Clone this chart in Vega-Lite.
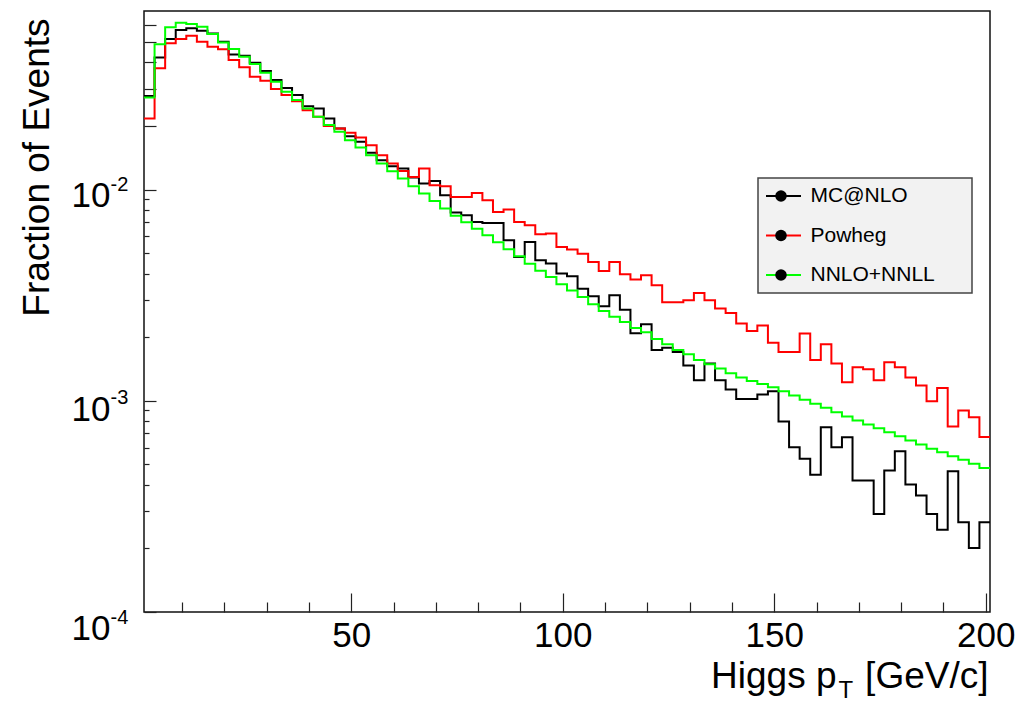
{
"$schema":"https://vega.github.io/schema/vega-lite/v6.json",
"width":846,"height":601,
"autosize":{"type":"none"},
"padding":{"left":144,"top":11,"right":28,"bottom":92},
"background":"white",
"config":{
 "view":{"stroke":"#111","strokeWidth":1.5},
 "axis":{"grid":false,"domain":false,"labelFont":"Liberation Sans","titleFont":"Liberation Sans","labelColor":"#000","titleColor":"#000","titleFontWeight":"normal","tickColor":"#222","tickWidth":1.2,"labelFlush":false,"labelOverlap":false},
 "legend":{"labelFont":"Liberation Sans","strokeWidth":1.5}
},
"data":{"values":[
{"series":"MC@NLO","pt":1,"frac":0.0277},{"series":"MC@NLO","pt":3.5,"frac":0.0422},{"series":"MC@NLO","pt":6,"frac":0.0516},{"series":"MC@NLO","pt":8.5,"frac":0.0569},{"series":"MC@NLO","pt":11,"frac":0.0580},{"series":"MC@NLO","pt":13.5,"frac":0.0564},{"series":"MC@NLO","pt":16,"frac":0.0548},{"series":"MC@NLO","pt":18.5,"frac":0.0500},{"series":"MC@NLO","pt":21,"frac":0.0436},{"series":"MC@NLO","pt":23.5,"frac":0.0430},
{"series":"MC@NLO","pt":26,"frac":0.0398},{"series":"MC@NLO","pt":28.5,"frac":0.0364},{"series":"MC@NLO","pt":31,"frac":0.0330},{"series":"MC@NLO","pt":33.5,"frac":0.0302},{"series":"MC@NLO","pt":36,"frac":0.0280},{"series":"MC@NLO","pt":38.5,"frac":0.0248},{"series":"MC@NLO","pt":41,"frac":0.0242},{"series":"MC@NLO","pt":43.5,"frac":0.0217},{"series":"MC@NLO","pt":46,"frac":0.01946},{"series":"MC@NLO","pt":48.5,"frac":0.01789},
{"series":"MC@NLO","pt":51,"frac":0.01681},{"series":"MC@NLO","pt":53.5,"frac":0.01491},{"series":"MC@NLO","pt":56,"frac":0.01377},{"series":"MC@NLO","pt":58.5,"frac":0.01290},{"series":"MC@NLO","pt":61,"frac":0.01258},{"series":"MC@NLO","pt":63.5,"frac":0.01140},{"series":"MC@NLO","pt":66,"frac":0.01068},{"series":"MC@NLO","pt":68.5,"frac":0.01098},{"series":"MC@NLO","pt":71,"frac":0.00940},{"series":"MC@NLO","pt":73.5,"frac":0.00778},
{"series":"MC@NLO","pt":76,"frac":0.00755},{"series":"MC@NLO","pt":78.5,"frac":0.00702},{"series":"MC@NLO","pt":81,"frac":0.00695},{"series":"MC@NLO","pt":83.5,"frac":0.00695},{"series":"MC@NLO","pt":86,"frac":0.00575},{"series":"MC@NLO","pt":88.5,"frac":0.00479},{"series":"MC@NLO","pt":91,"frac":0.00565},{"series":"MC@NLO","pt":93.5,"frac":0.00462},{"series":"MC@NLO","pt":96,"frac":0.00446},{"series":"MC@NLO","pt":98.5,"frac":0.00400},
{"series":"MC@NLO","pt":101,"frac":0.00388},{"series":"MC@NLO","pt":103.5,"frac":0.00339},{"series":"MC@NLO","pt":106,"frac":0.00312},{"series":"MC@NLO","pt":108.5,"frac":0.00280},{"series":"MC@NLO","pt":111,"frac":0.00316},{"series":"MC@NLO","pt":113.5,"frac":0.00270},{"series":"MC@NLO","pt":116,"frac":0.00209},{"series":"MC@NLO","pt":118.5,"frac":0.00230},{"series":"MC@NLO","pt":121,"frac":0.00174},{"series":"MC@NLO","pt":123.5,"frac":0.00178},
{"series":"MC@NLO","pt":126,"frac":0.00170},{"series":"MC@NLO","pt":128.5,"frac":0.00147},{"series":"MC@NLO","pt":131,"frac":0.00125},{"series":"MC@NLO","pt":133.5,"frac":0.00150},{"series":"MC@NLO","pt":136,"frac":0.00125},{"series":"MC@NLO","pt":138.5,"frac":0.00113},{"series":"MC@NLO","pt":141,"frac":0.00102},{"series":"MC@NLO","pt":143.5,"frac":0.00102},{"series":"MC@NLO","pt":146,"frac":0.00107},{"series":"MC@NLO","pt":148.5,"frac":0.00111},
{"series":"MC@NLO","pt":151,"frac":0.000798},{"series":"MC@NLO","pt":153.5,"frac":0.000603},{"series":"MC@NLO","pt":156,"frac":0.000531},{"series":"MC@NLO","pt":158.5,"frac":0.000447},{"series":"MC@NLO","pt":161,"frac":0.000750},{"series":"MC@NLO","pt":163.5,"frac":0.000603},{"series":"MC@NLO","pt":166,"frac":0.000672},{"series":"MC@NLO","pt":168.5,"frac":0.000419},{"series":"MC@NLO","pt":171,"frac":0.000419},{"series":"MC@NLO","pt":173.5,"frac":0.000291},
{"series":"MC@NLO","pt":176,"frac":0.000467},{"series":"MC@NLO","pt":178.5,"frac":0.000577},{"series":"MC@NLO","pt":181,"frac":0.000401},{"series":"MC@NLO","pt":183.5,"frac":0.000356},{"series":"MC@NLO","pt":186,"frac":0.000291},{"series":"MC@NLO","pt":188.5,"frac":0.000245},{"series":"MC@NLO","pt":191,"frac":0.000464},{"series":"MC@NLO","pt":193.5,"frac":0.000266},{"series":"MC@NLO","pt":196,"frac":0.000201},{"series":"MC@NLO","pt":198.5,"frac":0.000266},{"series":"MC@NLO","pt":201,"frac":0.000266},
{"series":"Powheg","pt":1,"frac":0.0217},{"series":"Powheg","pt":3.5,"frac":0.0375},{"series":"Powheg","pt":6,"frac":0.0492},{"series":"Powheg","pt":8.5,"frac":0.0516},{"series":"Powheg","pt":11,"frac":0.0535},{"series":"Powheg","pt":13.5,"frac":0.0501},{"series":"Powheg","pt":16,"frac":0.0474},{"series":"Powheg","pt":18.5,"frac":0.0461},{"series":"Powheg","pt":21,"frac":0.0410},{"series":"Powheg","pt":23.5,"frac":0.0379},
{"series":"Powheg","pt":26,"frac":0.0342},{"series":"Powheg","pt":28.5,"frac":0.0327},{"series":"Powheg","pt":31,"frac":0.0299},{"series":"Powheg","pt":33.5,"frac":0.0280},{"series":"Powheg","pt":36,"frac":0.0262},{"series":"Powheg","pt":38.5,"frac":0.0237},{"series":"Powheg","pt":41,"frac":0.0221},{"series":"Powheg","pt":43.5,"frac":0.0200},{"series":"Powheg","pt":46,"frac":0.01946},{"series":"Powheg","pt":48.5,"frac":0.01855},
{"series":"Powheg","pt":51,"frac":0.01764},{"series":"Powheg","pt":53.5,"frac":0.01622},{"series":"Powheg","pt":56,"frac":0.01454},{"series":"Powheg","pt":58.5,"frac":0.01328},{"series":"Powheg","pt":61,"frac":0.01225},{"series":"Powheg","pt":63.5,"frac":0.01147},{"series":"Powheg","pt":66,"frac":0.01258},{"series":"Powheg","pt":68.5,"frac":0.01048},{"series":"Powheg","pt":71,"frac":0.01037},{"series":"Powheg","pt":73.5,"frac":0.00922},
{"series":"Powheg","pt":76,"frac":0.00922},{"series":"Powheg","pt":78.5,"frac":0.00964},{"series":"Powheg","pt":81,"frac":0.00890},{"series":"Powheg","pt":83.5,"frac":0.00783},{"series":"Powheg","pt":86,"frac":0.00804},{"series":"Powheg","pt":88.5,"frac":0.00702},{"series":"Powheg","pt":91,"frac":0.00677},{"series":"Powheg","pt":93.5,"frac":0.00614},{"series":"Powheg","pt":96,"frac":0.00619},{"series":"Powheg","pt":98.5,"frac":0.00535},
{"series":"Powheg","pt":101,"frac":0.00520},{"series":"Powheg","pt":103.5,"frac":0.00497},{"series":"Powheg","pt":106,"frac":0.00454},{"series":"Powheg","pt":108.5,"frac":0.00411},{"series":"Powheg","pt":111,"frac":0.00454},{"series":"Powheg","pt":113.5,"frac":0.00397},{"series":"Powheg","pt":116,"frac":0.00375},{"series":"Powheg","pt":118.5,"frac":0.00393},{"series":"Powheg","pt":121,"frac":0.00352},{"series":"Powheg","pt":123.5,"frac":0.00293},
{"series":"Powheg","pt":126,"frac":0.00293},{"series":"Powheg","pt":128.5,"frac":0.00299},{"series":"Powheg","pt":131,"frac":0.00324},{"series":"Powheg","pt":133.5,"frac":0.00299},{"series":"Powheg","pt":136,"frac":0.00273},{"series":"Powheg","pt":138.5,"frac":0.00260},{"series":"Powheg","pt":141,"frac":0.00232},{"series":"Powheg","pt":143.5,"frac":0.00214},{"series":"Powheg","pt":146,"frac":0.00227},{"series":"Powheg","pt":148.5,"frac":0.00188},
{"series":"Powheg","pt":151,"frac":0.00170},{"series":"Powheg","pt":153.5,"frac":0.00170},{"series":"Powheg","pt":156,"frac":0.00208},{"series":"Powheg","pt":158.5,"frac":0.00156},{"series":"Powheg","pt":161,"frac":0.00185},{"series":"Powheg","pt":163.5,"frac":0.00150},{"series":"Powheg","pt":166,"frac":0.001225},{"series":"Powheg","pt":168.5,"frac":0.00144},{"series":"Powheg","pt":171,"frac":0.00141},{"series":"Powheg","pt":173.5,"frac":0.00125},
{"series":"Powheg","pt":176,"frac":0.00152},{"series":"Powheg","pt":178.5,"frac":0.00144},{"series":"Powheg","pt":181,"frac":0.00129},{"series":"Powheg","pt":183.5,"frac":0.00118},{"series":"Powheg","pt":186,"frac":0.000996},{"series":"Powheg","pt":188.5,"frac":0.00115},{"series":"Powheg","pt":191,"frac":0.000755},{"series":"Powheg","pt":193.5,"frac":0.000900},{"series":"Powheg","pt":196,"frac":0.000836},{"series":"Powheg","pt":198.5,"frac":0.000674},{"series":"Powheg","pt":201,"frac":0.000674},
{"series":"NNLO+NNLL","pt":1,"frac":0.0273},{"series":"NNLO+NNLL","pt":3.5,"frac":0.0487},{"series":"NNLO+NNLL","pt":6,"frac":0.0586},{"series":"NNLO+NNLL","pt":8.5,"frac":0.0616},{"series":"NNLO+NNLL","pt":11,"frac":0.0607},{"series":"NNLO+NNLL","pt":13.5,"frac":0.0590},{"series":"NNLO+NNLL","pt":16,"frac":0.0545},{"series":"NNLO+NNLL","pt":18.5,"frac":0.0497},{"series":"NNLO+NNLL","pt":21,"frac":0.0462},{"series":"NNLO+NNLL","pt":23.5,"frac":0.0425},
{"series":"NNLO+NNLL","pt":26,"frac":0.0393},{"series":"NNLO+NNLL","pt":28.5,"frac":0.0357},{"series":"NNLO+NNLL","pt":31,"frac":0.0324},{"series":"NNLO+NNLL","pt":33.5,"frac":0.0290},{"series":"NNLO+NNLL","pt":36,"frac":0.0265},{"series":"NNLO+NNLL","pt":38.5,"frac":0.0242},{"series":"NNLO+NNLL","pt":41,"frac":0.0221},{"series":"NNLO+NNLL","pt":43.5,"frac":0.0202},{"series":"NNLO+NNLL","pt":46,"frac":0.01875},{"series":"NNLO+NNLL","pt":48.5,"frac":0.01713},
{"series":"NNLO+NNLL","pt":51,"frac":0.01582},{"series":"NNLO+NNLL","pt":53.5,"frac":0.01454},{"series":"NNLO+NNLL","pt":56,"frac":0.01328},{"series":"NNLO+NNLL","pt":58.5,"frac":0.01221},{"series":"NNLO+NNLL","pt":61,"frac":0.01128},{"series":"NNLO+NNLL","pt":63.5,"frac":0.01037},{"series":"NNLO+NNLL","pt":66,"frac":0.00957},{"series":"NNLO+NNLL","pt":68.5,"frac":0.00883},{"series":"NNLO+NNLL","pt":71,"frac":0.00813},{"series":"NNLO+NNLL","pt":73.5,"frac":0.00751},
{"series":"NNLO+NNLL","pt":76,"frac":0.00700},{"series":"NNLO+NNLL","pt":78.5,"frac":0.00652},{"series":"NNLO+NNLL","pt":81,"frac":0.00607},{"series":"NNLO+NNLL","pt":83.5,"frac":0.00563},{"series":"NNLO+NNLL","pt":86,"frac":0.00521},{"series":"NNLO+NNLL","pt":88.5,"frac":0.00483},{"series":"NNLO+NNLL","pt":91,"frac":0.00445},{"series":"NNLO+NNLL","pt":93.5,"frac":0.00412},{"series":"NNLO+NNLL","pt":96,"frac":0.00385},{"series":"NNLO+NNLL","pt":98.5,"frac":0.00356},
{"series":"NNLO+NNLL","pt":101,"frac":0.00333},{"series":"NNLO+NNLL","pt":103.5,"frac":0.00310},{"series":"NNLO+NNLL","pt":106,"frac":0.00286},{"series":"NNLO+NNLL","pt":108.5,"frac":0.00266},{"series":"NNLO+NNLL","pt":111,"frac":0.00250},{"series":"NNLO+NNLL","pt":113.5,"frac":0.00236},{"series":"NNLO+NNLL","pt":116,"frac":0.00221},{"series":"NNLO+NNLL","pt":118.5,"frac":0.00211},{"series":"NNLO+NNLL","pt":121,"frac":0.00196},{"series":"NNLO+NNLL","pt":123.5,"frac":0.00185},
{"series":"NNLO+NNLL","pt":126,"frac":0.00174},{"series":"NNLO+NNLL","pt":128.5,"frac":0.00166},{"series":"NNLO+NNLL","pt":131,"frac":0.00156},{"series":"NNLO+NNLL","pt":133.5,"frac":0.00149},{"series":"NNLO+NNLL","pt":136,"frac":0.00142},{"series":"NNLO+NNLL","pt":138.5,"frac":0.00135},{"series":"NNLO+NNLL","pt":141,"frac":0.00129},{"series":"NNLO+NNLL","pt":143.5,"frac":0.00124},{"series":"NNLO+NNLL","pt":146,"frac":0.00120},{"series":"NNLO+NNLL","pt":148.5,"frac":0.00116},
{"series":"NNLO+NNLL","pt":151,"frac":0.00111},{"series":"NNLO+NNLL","pt":153.5,"frac":0.00106},{"series":"NNLO+NNLL","pt":156,"frac":0.00101},{"series":"NNLO+NNLL","pt":158.5,"frac":0.000968},{"series":"NNLO+NNLL","pt":161,"frac":0.000926},{"series":"NNLO+NNLL","pt":163.5,"frac":0.000883},{"series":"NNLO+NNLL","pt":166,"frac":0.000843},{"series":"NNLO+NNLL","pt":168.5,"frac":0.000807},{"series":"NNLO+NNLL","pt":171,"frac":0.000772},{"series":"NNLO+NNLL","pt":173.5,"frac":0.000742},
{"series":"NNLO+NNLL","pt":176,"frac":0.000710},{"series":"NNLO+NNLL","pt":178.5,"frac":0.000680},{"series":"NNLO+NNLL","pt":181,"frac":0.000648},{"series":"NNLO+NNLL","pt":183.5,"frac":0.000621},{"series":"NNLO+NNLL","pt":186,"frac":0.000592},{"series":"NNLO+NNLL","pt":188.5,"frac":0.000571},{"series":"NNLO+NNLL","pt":191,"frac":0.000546},{"series":"NNLO+NNLL","pt":193.5,"frac":0.000525},{"series":"NNLO+NNLL","pt":196,"frac":0.000503},{"series":"NNLO+NNLL","pt":198.5,"frac":0.000481},{"series":"NNLO+NNLL","pt":201,"frac":0.000481}
]},
"resolve":{"axis":{"x":"independent","y":"independent"}},
"layer":[
 {
  "mark":{"type":"line","interpolate":"step-after","strokeWidth":2},
  "encoding":{
   "x":{"field":"pt","type":"quantitative","scale":{"domain":[1,201],"nice":false,"zero":false},
        "axis":{"orient":"bottom","values":[50,100,150,200],"tickSize":-19,"labels":false,"title":null}},
   "y":{"field":"frac","type":"quantitative","scale":{"type":"log","domain":[0.0001,0.07],"nice":false},
        "axis":{"orient":"left","values":[0.0001,0.001,0.01],"tickSize":-12,"labels":false,"title":null}},
   "color":{"field":"series","type":"nominal",
     "scale":{"domain":["MC@NLO","Powheg","NNLO+NNLL"],"range":["#000000","#ff0000","#00ff00"]},
     "legend":{"orient":"none","legendX":614,"legendY":167,"title":null,"direction":"vertical","symbolType":"stroke","symbolSize":1225,"symbolStrokeWidth":2,"labelFontSize":21,"labelExpr":"''","labelOffset":163,"padding":7,"clipHeight":22,"rowPadding":17.5,"fillColor":"#f2f2f2","strokeColor":"#444444"}}
  }
 },
 {
  "mark":{"type":"point","filled":true,"color":"#000","opacity":0,"size":10},
  "encoding":{
   "x":{"field":"pt","type":"quantitative","scale":{"domain":[1,201],"nice":false,"zero":false},
        "axis":{"orient":"bottom","values":[10,20,30,40,60,70,80,90,110,120,130,140,160,170,180,190],"tickSize":-10,"labels":false,"title":null}},
   "y":{"field":"frac","type":"quantitative","scale":{"type":"log","domain":[0.0001,0.07],"nice":false},
        "axis":{"orient":"left","values":[0.0001,0.001,0.01],"ticks":false,"labelExpr":"'10'","labelFontSize":35,"labelAlign":"right","labelBaseline":"alphabetic","labelPadding":34,
                "labelOffset":{"condition":[{"test":"datum.value < 0.0005","value":27},{"test":"datum.value < 0.005","value":20}],"value":17},
                "title":"Fraction of Events","titleFontSize":37,"titleAngle":270,"titleAlign":"right","titleBaseline":"alphabetic","titleX":-96,"titleY":7}},
   "shape":{"field":"series","type":"nominal","sort":null,"scale":{"range":["circle","circle","circle"]},
     "legend":{"orient":"none","legendX":619.5,"legendY":167,"title":null,"direction":"vertical","symbolType":"circle","symbolSize":133,"symbolFillColor":"#000000","symbolStrokeColor":"#000000","symbolStrokeWidth":0,"symbolOpacity":1,"labelFontSize":21,"labelColor":"#000000","labelOffset":19,"padding":7,"clipHeight":22,"rowPadding":17.5}}
  }
 },
 {
  "mark":{"type":"point","opacity":0,"size":1},
  "encoding":{
   "x":{"field":"pt","type":"quantitative","scale":{"domain":[1,201],"nice":false,"zero":false},
        "axis":{"orient":"bottom","values":[50,100,150,200],"ticks":false,"labelFontSize":35,"labelPadding":34,"labelBaseline":"alphabetic",
                "title":"Higgs p","titleFontSize":37,"titleAlign":"right","titleBaseline":"alphabetic","titleX":692,"titleY":75}},
   "y":{"field":"frac","type":"quantitative","scale":{"type":"log","domain":[0.0001,0.07],"nice":false},
        "axis":{"orient":"left","values":[0.0002,0.0003,0.0004,0.0005,0.0006,0.0007,0.0008,0.0009,0.002,0.003,0.004,0.005,0.006,0.007,0.008,0.009],"tickSize":-5,"labels":false,"title":null}}
  }
 },
 {
  "mark":{"type":"point","opacity":0,"size":1},
  "encoding":{
   "x":{"field":"pt","type":"quantitative","scale":{"domain":[1,201],"nice":false,"zero":false},
        "axis":{"orient":"bottom","ticks":false,"labels":false,"title":"T","titleFontSize":24,"titleAlign":"left","titleBaseline":"alphabetic","titleX":694,"titleY":85}},
   "y":{"field":"frac","type":"quantitative","scale":{"type":"log","domain":[0.0001,0.07],"nice":false},
        "axis":{"orient":"left","values":[0.02,0.03,0.04,0.05,0.06],"tickSize":-12,"labels":false,"title":null}}
  }
 },
 {
  "mark":{"type":"point","opacity":0,"size":1},
  "encoding":{
   "x":{"field":"pt","type":"quantitative","scale":{"domain":[1,201],"nice":false,"zero":false},
        "axis":{"orient":"bottom","ticks":false,"labels":false,"title":"[GeV/c]","titleFontSize":37,"titleAlign":"right","titleBaseline":"alphabetic","titleX":844,"titleY":75}},
   "y":{"field":"frac","type":"quantitative","scale":{"type":"log","domain":[0.0001,0.07],"nice":false},
        "axis":{"orient":"left","values":[0.0001,0.001,0.01],"ticks":false,"labelExpr":"datum.value < 0.0005 ? '-4' : (datum.value < 0.005 ? '-3' : '-2')","labelFontSize":20,"labelAlign":"left","labelBaseline":"alphabetic","labelPadding":34,
                "labelOffset":{"condition":[{"test":"datum.value < 0.0005","value":11},{"test":"datum.value < 0.005","value":3}],"value":1},"title":null}}
  }
 }
]
}
